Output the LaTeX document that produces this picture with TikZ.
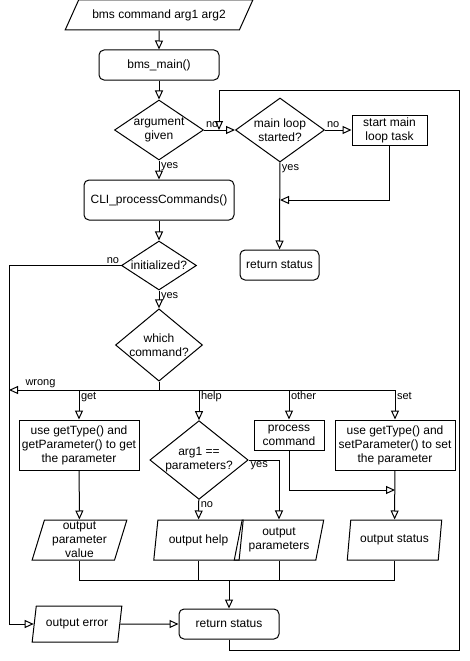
\documentclass[tikz,border=0pt]{standalone}
\usepackage{fontspec}
\setmainfont{Liberation Sans}
\usetikzlibrary{arrows.meta, shapes.geometric}
\tikzset{
    base/.style={draw, line width=1pt, align=center, inner sep=0pt,
                 font=\fontsize{12}{14}\selectfont},
    termbox/.style={base, rectangle, rounded corners=5pt},
    procbox/.style={base, rectangle},
    decision/.style={base, diamond},
    iobox/.style={base, trapezium, trapezium stretches=true,
                  trapezium left angle=75, trapezium right angle=105},
    flow/.style={-{Triangle[open, length=9pt, width=8pt]}, line width=1pt},
    wire/.style={-, line width=1pt},
    lbl/.style={font=\fontsize{11}{13}\selectfont, inner sep=1.5pt},
}

\begin{document}
\begin{tikzpicture}[x=1pt, y=-1pt]
\useasboundingbox (0,0) rectangle (470,661);
% Entry: command line and main function.
\node[iobox, trapezium left angle=45, trapezium right angle=135,
      minimum width=188, minimum height=30] (cmdin) at (159,15) {bms command arg1 arg2};
\node[termbox, minimum width=120, minimum height=30] (bmsmain) at (159,65) {bms\_main()};
\node[decision, aspect=1.5, minimum width=89, minimum height=60] (argq) at (159,130) {argument\\given};
% Main loop branch.
\node[decision, aspect=1.35, minimum width=89, minimum height=64] (loopq) at (280,130) {main loop\\started?};
\node[procbox, minimum width=75, minimum height=30] (startloop) at (389.5,130) {start main\\loop task};
\node[termbox, minimum width=79, minimum height=30] (retmain) at (279.5,265) {return status};
% CLI branch.
\node[termbox, minimum width=150, minimum height=40] (cli) at (159,200) {CLI\_processCommands()};
\node[decision, aspect=1.5, minimum width=75, minimum height=49] (initq) at (159,265.5) {initialized?};
\node[decision, aspect=1.2, minimum width=87, minimum height=70] (cmdq) at (159,345) {which\\command?};
% Level of commands.
\node[procbox, minimum width=120, minimum height=50] (getbox) at (79,445) {use getType() and\\getParameter() to get\\the parameter};
\node[decision, aspect=1.25, minimum width=98, minimum height=78] (helpq) at (199,460) {arg1 ==\\parameters?};
\node[procbox, minimum width=70, minimum height=30] (otherbox) at (289,435) {process\\command};
\node[procbox, minimum width=120, minimum height=50] (setbox) at (395,445) {use getType() and\\setParameter() to set\\the parameter};
% Outputs.
\node[iobox, minimum width=95, minimum height=40] (outval) at (79.5,540) {output\\parameter\\value};
\node[iobox, minimum width=90, minimum height=40] (outhelp) at (198.5,540) {output help};
\node[iobox, minimum width=90, minimum height=40] (outpars) at (279,540) {output\\parameters};
\node[iobox, minimum width=95, minimum height=40] (outstat) at (394.5,540) {output status};
\node[iobox, trapezium left angle=73, trapezium right angle=107,
      minimum width=90, minimum height=36] (outerr) at (77,624) {output error};
\node[termbox, minimum width=100, minimum height=30] (retcli) at (229,624) {return status};
% Joints.
\coordinate (joinloop) at (280,200);
\coordinate (leftrail) at (9,265.5);
\coordinate (bus) at (159,390);
\coordinate (wrongend) at (9,390);
\coordinate (joinset) at (395,490);
\coordinate (merge) at (229,580);
\coordinate (loopbr) at (459,650);
\coordinate (looptl) at (219,90);
\coordinate (loopin) at (219,130);
% Edges.
\draw[flow] (cmdin) -- (bmsmain);
\draw[flow] (bmsmain) -- (argq);
\draw[flow] (argq) -- node[lbl, pos=0, above right] {no} (loopq);
\draw[flow] (loopq) -- node[lbl, pos=0, above right] {no} (startloop);
\draw[flow] (startloop) |- (joinloop);
\draw[flow] (loopq) -- node[lbl, pos=0, below right] {yes} (retmain);
\draw[flow] (argq) -- node[lbl, pos=0, below right] {yes} (cli);
\draw[flow] (cli) -- (initq);
\draw[flow] (initq.west) -- node[lbl, pos=0, above left] {no} (leftrail) |- (outerr);
\draw[flow] (initq) -- node[lbl, pos=0, below right] {yes} (cmdq);
\draw[wire] (cmdq) -- (bus);
\draw[flow] (bus) -- node[lbl, pos=0.79, above] {wrong} (wrongend);
\draw[flow] (bus) -| node[lbl, pos=0.5, below right] {get} (getbox);
\draw[flow] (bus) -| node[lbl, pos=0.5, below right] {help} (helpq);
\draw[flow] (bus) -| node[lbl, pos=0.5, below right] {other} (otherbox);
\draw[flow] (bus) -| node[lbl, pos=0.5, below right] {set} (setbox);
\draw[flow] (getbox) -- (outval);
\draw[flow] (helpq) -- node[lbl, pos=0, below right] {no} (outhelp);
\draw[flow] (helpq.east) -| node[lbl, pos=0, below right] {yes} (outpars);
\draw[flow] (otherbox) |- (joinset);
\draw[flow] (setbox) -- (outstat);
\draw[wire] (outval) |- (merge);
\draw[wire] (outhelp) |- (merge);
\draw[wire] (outpars) |- (merge);
\draw[wire] (outstat) |- (merge);
\draw[flow] (merge) -- (retcli);
\draw[flow] (outerr) -- (retcli);
\draw[flow] (retcli) |- (loopbr) |- (looptl) -- (loopin);
\end{tikzpicture}
\end{document}
